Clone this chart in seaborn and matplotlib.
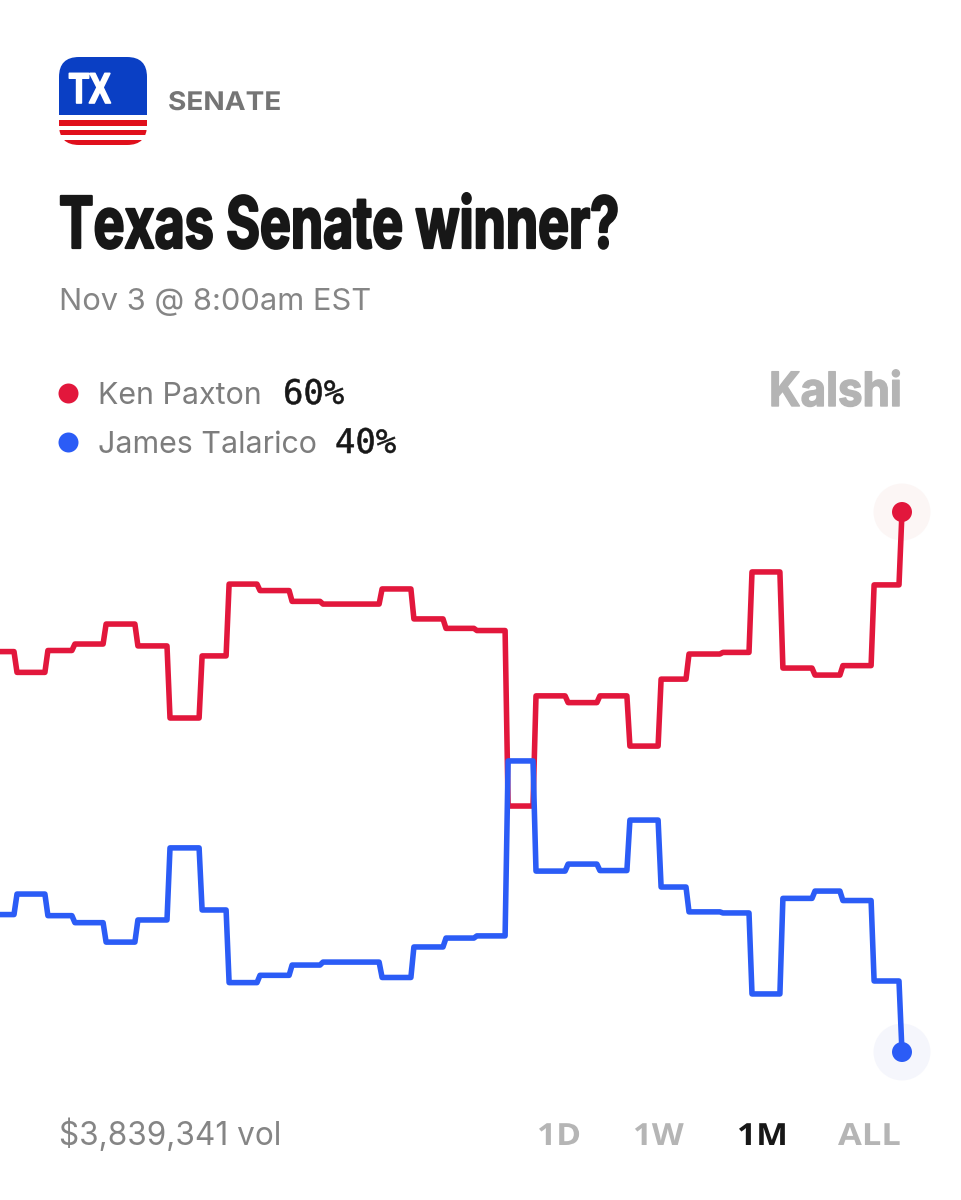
import matplotlib
matplotlib.use('Agg')
import matplotlib.pyplot as plt
import matplotlib.patheffects as pe
import pandas as pd
import seaborn as sns
from matplotlib.patches import FancyBboxPatch, Rectangle
from matplotlib.transforms import Affine2D

# day on which each level ends, last point is "now"
level_end_day = [0.4, 1.43, 2.33, 3.37, 4.43, 5.5, 6.57, 7.47, 8.5, 9.57, 10.6, 12.57,
                 13.63, 14.7, 15.73, 16.77, 17.7, 18.77, 19.83, 20.83, 21.87, 22.8,
                 23.93, 24.9, 25.93, 27.0, 27.93, 28.97, 29.9]
last_day = 30

paxton = [54.83, 54.06, 54.87, 55.11, 55.85, 55.04, 52.37, 54.67, 57.33, 57.09, 56.69, 56.59,
          57.15, 56.04, 55.69, 55.61, 49.11, 53.19, 52.94, 53.19, 51.33, 53.81,
          54.74, 54.80, 57.78, 54.22, 53.96, 54.31, 57.30, 60]
talarico = [45.09, 45.85, 45.05, 44.79, 44.07, 44.89, 47.56, 45.26, 42.57, 42.84, 43.22, 43.33,
            42.76, 43.89, 44.22, 44.30, 50.78, 46.70, 46.96, 46.72, 48.59, 46.11,
            45.19, 45.15, 42.15, 45.69, 45.96, 45.61, 42.63, 40]

RED = '#e2173c'
BLUE = '#2b5cf6'
names = ['Ken Paxton', 'James Talarico']
ranges = ['1D', '1W', '1M', 'ALL']

sns.set_style('white')
fig = plt.figure(figsize=(9.61, 12), dpi=100, facecolor='white')
ax = fig.add_axes([0, 0, 1, 1])

# coordinates in picture pixels, for everything that is not data
px = Affine2D().scale(1 / 961, -1 / 1200).translate(0, 1) + fig.transFigure


class Squeeze(pe.AbstractPathEffect):
    # draws a text narrower or wider around its left edge, no condensed font here
    def __init__(self, x0, sx, stroke=0):
        super().__init__()
        self.x0 = x0
        self.sx = sx
        self.stroke = stroke

    def draw_path(self, renderer, gc, tpath, affine, rgbFace=None):
        gc0 = renderer.new_gc()
        gc0.copy_properties(gc)
        if self.stroke:
            gc0.set_linewidth(self.stroke)
            gc0.set_foreground(rgbFace)
        else:
            gc0.set_linewidth(0)
        a = affine + Affine2D().translate(-self.x0, 0).scale(self.sx, 1).translate(self.x0, 0)
        renderer.draw_path(gc0, tpath, a, rgbFace)
        gc0.restore()


def label(x, y, s, size, color, family, weight='normal', sx=1.0, stroke=0):
    t = ax.text(x, y, s, transform=px, color=color, fontsize=size, family=family,
                fontweight=weight, va='baseline', ha='left')
    if sx != 1.0 or stroke:
        t.set_path_effects([Squeeze(x, sx, stroke)])
    return t


def steps(levels):
    xs, ys = [], []
    start = -0.2
    for end, level in zip(level_end_day, levels[:-1]):
        xs += [start, end]
        ys += [level, level]
        start = end + 0.1
    xs.append(last_day)
    ys.append(levels[-1])
    return xs, ys


rows = []
for name, levels in zip(names, [paxton, talarico]):
    xs, ys = steps(levels)
    rows.append(pd.DataFrame({'day': xs, 'pct': ys, 'candidate': name}))
df = pd.concat(rows)

ends = pd.DataFrame({'day': [last_day, last_day], 'pct': [paxton[-1], talarico[-1]], 'candidate': names})
sns.scatterplot(data=ends, x='day', y='pct', hue='candidate', palette=['#fcf6f5', '#f5f6fc'],
                s=1680, linewidth=0, legend=False, ax=ax, zorder=1)
sns.lineplot(data=df, x='day', y='pct', hue='candidate', palette=[RED, BLUE], sort=False,
             estimator=None, linewidth=4.0, legend=False, ax=ax, zorder=2,
             solid_joinstyle='round', solid_capstyle='round')
sns.scatterplot(data=ends, x='day', y='pct', hue='candidate', palette=[RED, BLUE],
                s=207, linewidth=0, legend=False, ax=ax, zorder=3)
ax.set_xlim(-2 / 30, 959 / 30)
ax.set_ylim(60 - 688 / 27, 60 + 512 / 27)
ax.axis('off')

# badge
clip = FancyBboxPatch((59 + 20, 57 + 20), 88 - 40, 88 - 40, boxstyle='round,pad=20,rounding_size=20',
                      transform=px, fc='none', ec='none')
ax.add_patch(clip)
for y, h, c in [(57, 58, '#0a3fc4'), (120, 5.5, '#e0101c'), (130, 5, '#e0101c'), (140, 5.5, '#e0101c')]:
    r = Rectangle((59, y), 88, h, transform=px, fc=c, ec='none')
    ax.add_patch(r)
    r.set_clip_path(clip)
label(69, 103, 'TX', 31, 'white', 'Liberation Sans', 'bold', sx=0.76, stroke=1.2)

# header
label(168, 110, 'SENATE', 18.5, '#757575', 'Inter', 'bold', sx=1.09)
label(59, 248, 'Texas Senate winner?', 51.5, '#171717', 'Inter', 'bold', sx=0.725, stroke=1.6)
label(59, 310, 'Nov 3 @ 8:00am EST', 22.2, '#858585', 'Inter')

# legend
for y, c, name, pct, xp in [(393, RED, names[0], '60%', 283), (442, BLUE, names[1], '40%', 335)]:
    ax.scatter([68], [y], s=207, color=c, linewidth=0, transform=px)
    label(98, y + 11, name, 21.9, '#7d7d7d', 'Inter')
    label(xp, y + 11, pct, 24.4, '#171717', 'DejaVu Sans Mono', stroke=0.4)

label(769, 406, 'Kalshi', 34, '#b4b4b4', 'Inter', 'bold', sx=0.93, stroke=1)

# footer
label(59, 1145, '$3,839,341 vol', 22.7, '#858585', 'Inter')
for lab, x, c, sx in zip(ranges, [537, 633, 737, 838], ['#b5b5b5', '#b5b5b5', '#171717', '#b5b5b5'],
                         [1.1, 1.08, 1.1, 1.13]):
    label(x, 1145, lab, 22, c, 'Open Sans', 'bold', sx=sx)

fig.savefig('out.png', dpi=100, facecolor='white')
